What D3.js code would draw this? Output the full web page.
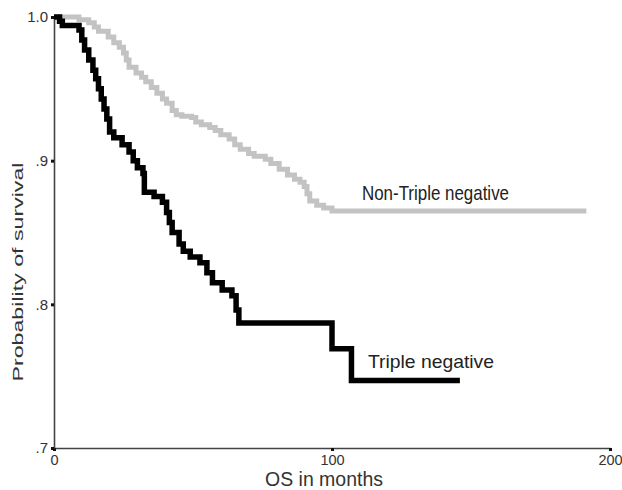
<!DOCTYPE html>
<html>
<head>
<meta charset="utf-8">
<script src="https://cdn.jsdelivr.net/npm/d3@7"></script>
<style>
  body { margin: 0; background: #fff; }
  svg { display: block; font-family: "Liberation Sans", Arial, sans-serif; }
</style>
</head>
<body>
<div id="chart"></div>
<script>
// Kaplan-Meier steps (months, survival)
const tripleNegTime = [0, 2, 3, 9, 10, 11, 12.5, 14, 15, 16, 17, 18, 19, 20, 21.5, 24.5, 27, 28.5, 30, 32, 32.5, 36, 39, 40.5, 41.5, 42.5, 45, 46.5, 49, 52.5, 55, 57, 60.5, 64, 65.5, 66.5, 100, 107, 146];
const tripleNegSurv = [1.0, .997, .994, .991, .984, .977, .970, .963, .957, .950, .943, .936, .929, .920, .916, .911, .906, .900, .895, .891, .878, .875, .871, .864, .857, .850, .842, .837, .833, .829, .822, .815, .810, .806, .796, .787, .769, .747, .747];

const nonTripleTime = [0, 9, 12.5, 14.5, 16, 19.5, 21.5, 23.5, 25, 26, 27, 29.5, 31.5, 33, 35, 37, 39, 40.5, 42.5, 44, 46, 49.5, 51, 53, 56, 58, 60, 63, 65, 67, 70, 72, 76, 78, 81, 84, 86.5, 88.5, 90, 91, 92, 94.5, 97, 100, 191.5];
const nonTripleSurv = [1.0, .998, .996, .993, .990, .986, .982, .979, .975, .970, .965, .961, .958, .955, .951, .947, .943, .940, .935, .932, .931, .930, .927, .925, .923, .921, .918, .915, .911, .908, .905, .903, .901, .898, .894, .890, .887, .885, .882, .877, .872, .869, .867, .865, .865];

const xTicks = [0, 100, 200];
const yTicks = [0.7, 0.8, 0.9, 1.0];

const width = 622, height = 490;
const margin = { top: 17, right: 12, bottom: 42, left: 54 };

const svg = d3.select("#chart").append("svg")
  .attr("width", width)
  .attr("height", height);

const x = d3.scaleLinear().domain([0, 200]).range([margin.left, width - margin.right]);
const y = d3.scaleLinear().domain([0.7, 1.0]).range([height - margin.bottom, margin.top]);

// axes
const xAxis = svg.append("g")
  .attr("transform", `translate(0,${height - margin.bottom})`)
  .call(d3.axisBottom(x).tickValues(xTicks).tickSize(3).tickSizeOuter(0).tickPadding(4));

const yAxis = svg.append("g")
  .attr("transform", `translate(${margin.left},0)`)
  .call(d3.axisLeft(y).tickValues(yTicks).tickSize(3).tickSizeOuter(0).tickPadding(3)
    .tickFormat(d => d === 1 ? "1.0" : d3.format(".1f")(d).replace("0.", ".")));

[xAxis, yAxis].forEach(g => {
  g.select(".domain").attr("stroke", "#444").attr("stroke-width", 1.6);
  g.selectAll(".tick line").attr("stroke", "#111").attr("stroke-width", 3);
  g.selectAll(".tick text").attr("fill", "#333").attr("font-family", "Liberation Sans, Arial, sans-serif");
});
xAxis.selectAll(".tick text").attr("font-size", 14.5);
yAxis.selectAll(".tick text").attr("font-size", 15);

// survival curves
const line = d3.line()
  .x(d => x(d[0]))
  .y(d => y(d[1]))
  .curve(d3.curveStepAfter);

svg.append("path")
  .datum(d3.zip(nonTripleTime, nonTripleSurv))
  .attr("fill", "none")
  .attr("stroke", "#c3c3c3")
  .attr("stroke-width", 5)
  .attr("d", line);

svg.append("path")
  .datum(d3.zip(tripleNegTime, tripleNegSurv))
  .attr("fill", "none")
  .attr("stroke", "#000")
  .attr("stroke-width", 5.5)
  .attr("d", line);

// labels
svg.append("text")
  .attr("x", 362).attr("y", 200)
  .attr("font-size", 21)
  .attr("textLength", 147)
  .attr("lengthAdjust", "spacingAndGlyphs")
  .attr("fill", "#222")
  .text("Non-Triple negative");

svg.append("text")
  .attr("x", 368).attr("y", 368)
  .attr("font-size", 18.5)
  .attr("textLength", 126)
  .attr("lengthAdjust", "spacingAndGlyphs")
  .attr("fill", "#222")
  .text("Triple negative");

svg.append("text")
  .attr("x", 324).attr("y", 486)
  .attr("text-anchor", "middle")
  .attr("font-size", 20)
  .attr("textLength", 118)
  .attr("lengthAdjust", "spacingAndGlyphs")
  .attr("fill", "#333")
  .text("OS in months");

// the y title is stretched along its length in the reference
svg.append("text")
  .attr("transform", "translate(23,272) rotate(-90) scale(1.6,1)")
  .attr("text-anchor", "middle")
  .attr("font-size", 14.5)
  .attr("fill", "#333")
  .text("Probability of survival");
</script>
</body>
</html>
